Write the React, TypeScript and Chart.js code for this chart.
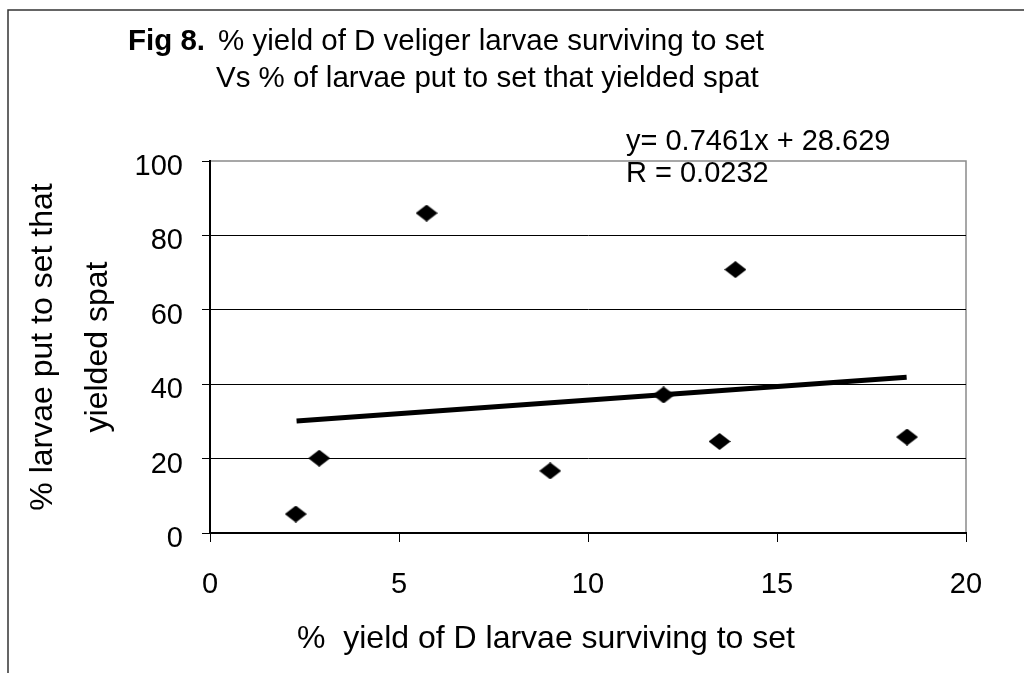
import React, { useEffect, useRef } from 'react';
import { Chart, registerables } from 'chart.js';

Chart.register(...registerables);

// ---- data ----
const xValues = [2.27, 2.89, 5.73, 9.0, 12.0, 13.48, 13.9, 18.44];
const yValues = [5.1, 20.1, 86.0, 16.7, 37.1, 24.6, 70.8, 25.8];
const trendX = [2.29, 18.43];
const trendY = [30.1, 41.9];
const xRange = [0, 20];
const xStep = 5;
const yRange = [0, 100];
const yStep = 20;

const titleBold = 'Fig 8.';
const titleLine1 = '% yield of D veliger larvae surviving to set';
const titleLine2 = 'Vs % of larvae put to set that yielded spat';
const equationLines = ['y= 0.7461x + 28.629', 'R = 0.0232'];
const xAxisTitle = '%  yield of D larvae surviving to set';
const yAxisTitle = ['% larvae put to set that', 'yielded spat'];

const FONT = '"Liberation Sans", Arial, Helvetica, sans-serif';

function makeDiamond(): HTMLCanvasElement {
  const c = document.createElement('canvas');
  c.width = 22;
  c.height = 17;
  const g = c.getContext('2d')!;
  g.fillStyle = '#000';
  g.beginPath();
  g.moveTo(11, 0);
  g.lineTo(22, 8.5);
  g.lineTo(11, 17);
  g.lineTo(0, 8.5);
  g.closePath();
  g.fill();
  return c;
}

const decorPlugin = {
  id: 'decor',
  beforeDraw(chart: any) {
    const { ctx, chartArea } = chart;
    ctx.save();
    ctx.fillStyle = '#fff';
    ctx.fillRect(0, 0, chart.width, chart.height);
    // outer frame (top and left edges visible)
    ctx.strokeStyle = '#333';
    ctx.lineWidth = 1.5;
    ctx.beginPath();
    ctx.moveTo(8, chart.height);
    ctx.lineTo(8, 10);
    ctx.lineTo(chart.width, 10);
    ctx.stroke();
    // plot-area border
    ctx.strokeStyle = '#8a8a8a';
    ctx.lineWidth = 1.5;
    ctx.strokeRect(chartArea.left, chartArea.top, chartArea.right - chartArea.left, chartArea.bottom - chartArea.top);
    ctx.restore();
  },
  afterDraw(chart: any) {
    const { ctx } = chart;
    ctx.save();
    ctx.fillStyle = '#000';
    ctx.textBaseline = 'alphabetic';
    ctx.textAlign = 'left';
    // title
    ctx.font = `bold 29.5px ${FONT}`;
    ctx.fillText(titleBold, 128, 50);
    ctx.font = `29.5px ${FONT}`;
    ctx.fillText(titleLine1, 218, 50);
    ctx.fillText(titleLine2, 216, 87);
    // equation
    ctx.font = `29px ${FONT}`;
    ctx.fillText(equationLines[0], 626, 150);
    ctx.fillText(equationLines[1], 626, 182);
    // x axis title
    ctx.font = `32px ${FONT}`;
    ctx.fillText(xAxisTitle, 297, 648);
    ctx.restore();
  },
};

export default function App() {
  const ref = useRef<HTMLCanvasElement | null>(null);

  useEffect(() => {
    if (!ref.current) return;
    const diamond = makeDiamond();
    const chart = new Chart(ref.current, {
      type: 'scatter',
      data: {
        datasets: [
          {
            type: 'line',
            label: 'Linear trend',
            data: trendX.map((x, i) => ({ x, y: trendY[i] })),
            borderColor: '#000',
            borderWidth: 5,
            borderCapStyle: 'butt',
            pointRadius: 0,
            fill: false,
            order: 0,
          } as any,
          {
            label: 'Yield',
            data: xValues.map((x, i) => ({ x, y: yValues[i] })),
            pointStyle: diamond as any,
            pointRadius: 11,
            backgroundColor: '#000',
            borderColor: '#000',
            order: 1,
          },
        ],
      },
      options: {
        responsive: false,
        animation: false,
        devicePixelRatio: 1,
        layout: { padding: { left: 0, right: 58, top: 161, bottom: 0 } },
        plugins: {
          legend: { display: false },
          tooltip: { enabled: false },
          title: { display: false },
        },
        scales: {
          x: {
            type: 'linear',
            min: xRange[0],
            max: xRange[1],
            afterFit(scale: any) {
              scale.height = 140;
            },
            ticks: {
              stepSize: xStep,
              color: '#000',
              padding: 26,
              font: { family: FONT, size: 29 },
              maxRotation: 0,
            },
            grid: {
              drawOnChartArea: false,
              drawTicks: true,
              tickLength: 9,
              tickColor: '#000',
              color: '#000',
            },
            border: { display: true, color: '#000', width: 2 },
            title: { display: false },
          },
          y: {
            type: 'linear',
            min: yRange[0],
            max: yRange[1],
            afterFit(scale: any) {
              scale.width = 210;
            },
            ticks: {
              stepSize: yStep,
              color: '#000',
              padding: 19,
              labelOffset: 6,
              font: { family: FONT, size: 29 },
            },
            grid: {
              color: (c: any) => (c.tick && c.tick.value === 100 ? 'rgba(0,0,0,0)' : '#000'),
              tickColor: '#000',
              tickLength: 8,
              lineWidth: 1,
            },
            border: { display: true, color: '#000', width: 2 },
            title: {
              display: true,
              text: yAxisTitle,
              color: '#000',
              font: { family: FONT, size: 32, lineHeight: 1.72 },
              padding: { top: 16, bottom: 0 },
            },
          },
        },
      },
      plugins: [decorPlugin],
    } as any);
    return () => chart.destroy();
  }, []);

  return (
    <div style={{ position: 'absolute', left: 0, top: 0, width: 1024, height: 673, background: '#fff' }}>
      <canvas ref={ref} width={1024} height={673} style={{ display: 'block' }} />
    </div>
  );
}
